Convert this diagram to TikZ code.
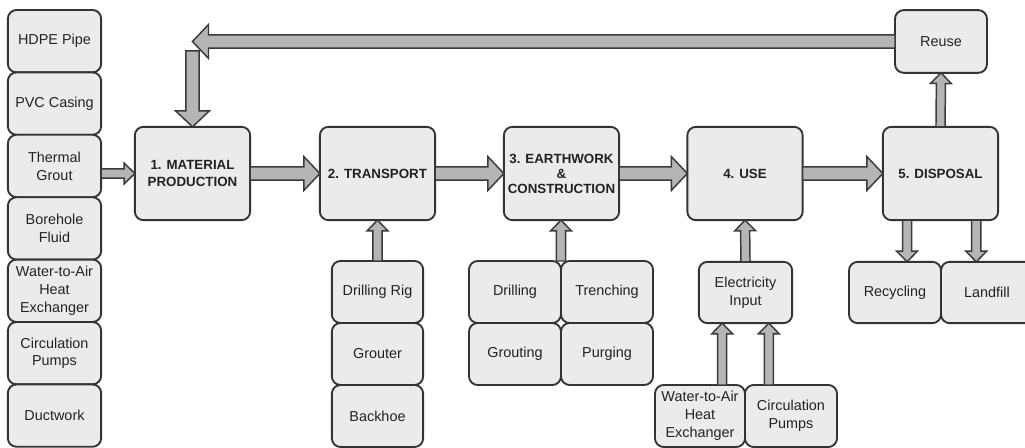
\documentclass[tikz,border=0pt]{standalone}
\usepackage{fontspec}
\setmainfont{Liberation Sans}
\usetikzlibrary{positioning,calc}
\definecolor{boxfill}{HTML}{EBEBEB}
\definecolor{boxline}{HTML}{333333}
\definecolor{arrfill}{HTML}{B5B5B5}
\definecolor{arrline}{HTML}{3A3A3A}
\definecolor{labeltext}{HTML}{222222}
\tikzset{
  arrsw/.store in=\arrsw, arrhw/.store in=\arrhw, arrhl/.store in=\arrhl,
  blockarr/.style={draw=arrline, fill=arrfill, line width=1.1pt, line join=miter,
    to path={($(\tikztostart)!\arrsw!90:(\tikztotarget)$)
      -- ($($(\tikztotarget)!\arrhl!(\tikztostart)$)!\arrsw!90:(\tikztotarget)$)
      -- ($($(\tikztotarget)!\arrhl!(\tikztostart)$)!\arrhw!90:(\tikztotarget)$)
      -- (\tikztotarget)
      -- ($($(\tikztotarget)!\arrhl!(\tikztostart)$)!\arrhw!-90:(\tikztotarget)$)
      -- ($($(\tikztotarget)!\arrhl!(\tikztostart)$)!\arrsw!-90:(\tikztotarget)$)
      -- ($(\tikztostart)!\arrsw!-90:(\tikztotarget)$) -- cycle}},
  bigarr/.style={blockarr, arrsw=4.9pt, arrhw=12.7pt, arrhl=12pt},
  smallarr/.style={blockarr, arrsw=3.4pt, arrhw=7.8pt, arrhl=8pt},
  box/.style={draw=boxline, fill=boxfill, line width=1.4pt, rounded corners=6.5pt,
    align=center, inner sep=1pt, outer sep=0pt, text=labeltext,
    font=\fontsize{10.8}{13.3}\selectfont},
  mainbox/.style={box, minimum width=86.5pt, minimum height=70pt,
    font=\bfseries\fontsize{10}{13.3}\selectfont},
  sidebox/.style={box, minimum width=70pt, minimum height=46.8pt},
  toolbox/.style={box, minimum width=69pt, minimum height=46.5pt}
}

\begin{document}
\begin{tikzpicture}[x=0.75pt, y=-0.75pt]
  \useasboundingbox (0,0) rectangle (1025,448);

  % life cycle stages
  \node[mainbox] (mat) at (192.5,173.5) {1. MATERIAL\\PRODUCTION};
  \node[mainbox] (trn) at (377.5,173.5) {2. TRANSPORT};
  \node[mainbox, font=\bfseries\fontsize{10}{11.3}\selectfont] (ew) at (561.5,173.5)
    {3. EARTHWORK\\\&\\CONSTRUCTION};
  \node[mainbox] (use) at (745,173.5) {4. USE};
  \node[mainbox] (disp) at (940.5,173.5) {5. DISPOSAL};

  % materials
  \node[sidebox] (hdpe) at (54.5,41.2) {HDPE Pipe};
  \node[sidebox, below=0pt of hdpe] (pvc) {PVC Casing};
  \node[sidebox, below=0pt of pvc] (grout) {Thermal\\Grout};
  \node[sidebox, below=0pt of grout] (fluid) {Borehole\\Fluid};
  \node[sidebox, below=0pt of fluid] (hx) {Water-to-Air\\Heat\\Exchanger};
  \node[sidebox, below=0pt of hx] (pumps) {Circulation\\Pumps};
  \node[sidebox, below=0pt of pumps] (duct) {Ductwork};

  % equipment
  \node[toolbox, minimum width=68.5pt] (rig) at (377.5,292) {Drilling Rig};
  \node[toolbox, minimum width=68.5pt, below=0pt of rig] (grouter) {Grouter};
  \node[toolbox, minimum width=68.5pt, below=0pt of grouter] (backhoe) {Backhoe};

  % site work
  \node[toolbox] (drl) at (515,292) {Drilling};
  \node[toolbox, right=0pt of drl] (trench) {Trenching};
  \node[toolbox, below=0pt of drl] (grt) {Grouting};
  \node[toolbox, below=0pt of trench] (purge) {Purging};

  % operation
  \node[toolbox, minimum width=70pt, minimum height=46pt] (elec) at (745.5,292.5) {Electricity\\Input};
  \node[toolbox, minimum width=67.5pt] (hx2) at (700,416) {Water-to-Air\\Heat\\Exchanger};
  \node[toolbox, right=0pt of hx2] (pumps2) {Circulation\\Pumps};

  % end of life
  \node[toolbox, minimum height=46pt] (rec) at (895,292.5) {Recycling};
  \node[toolbox, minimum height=46pt, right=0pt of rec] (land) {Landfill};
  \node[toolbox, minimum height=47pt] (reuse) at (941,41.5) {Reuse};

  % flow
  \draw[smallarr] (grout.east |- mat.west) to (mat.west);
  \draw[bigarr] (mat.east) to (trn.west);
  \draw[bigarr] (trn.east) to (ew.west);
  \draw[bigarr] (ew.east) to (use.west);
  \draw[bigarr] (use.east) to (disp.west);

  \draw[smallarr] (rig.north) to (trn.south);
  \draw[smallarr] (drl.north east) to (drl.north east |- ew.south);
  \draw[smallarr] (elec.north) to (use.south);

  \coordinate (e1) at ($(elec.south west)!0.25!(elec.south east)$);
  \coordinate (e2) at ($(elec.south west)!0.75!(elec.south east)$);
  \draw[smallarr] (e1 |- hx2.north) to (e1);
  \draw[smallarr] (e2 |- pumps2.north) to (e2);

  \coordinate (d1) at ($(disp.south west)!0.21!(disp.south east)$);
  \coordinate (d2) at ($(disp.south west)!0.81!(disp.south east)$);
  \draw[smallarr] (d1) to (d1 |- rec.north);
  \draw[smallarr] (d2) to (d2 |- land.north);
  \draw[smallarr] (disp.north) to (reuse.south);

  % reuse loop
  \coordinate (ret) at (mat.north |- reuse.west);
  \coordinate (drop) at ($(mat.north)+(0,-76)$);
  \draw[bigarr] (reuse.west) to (ret);
  \draw[bigarr] (drop) to (mat.north);
\end{tikzpicture}
\end{document}
